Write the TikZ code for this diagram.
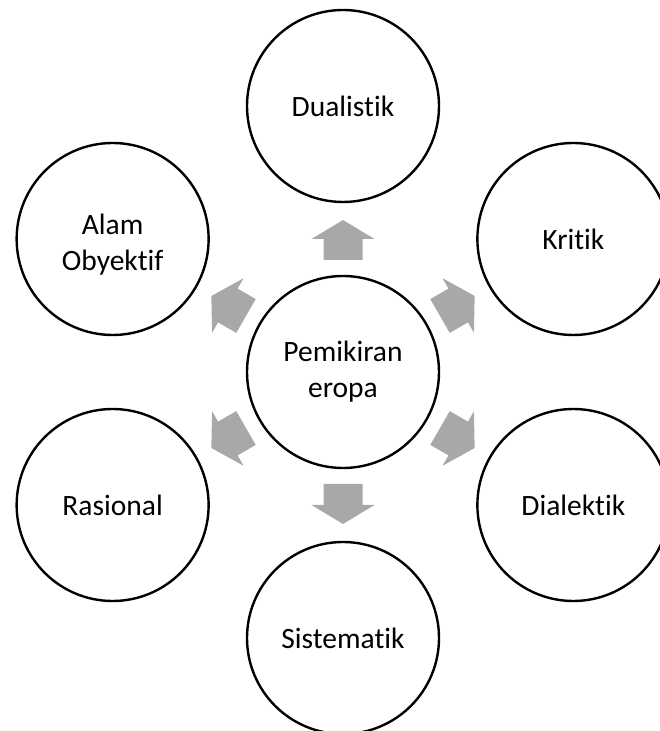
\documentclass[tikz,border=0pt]{standalone}
\usepackage{fontspec}
\setmainfont{Carlito}[Ligatures={NoCommon,NoContextual}]
\usetikzlibrary{calc}
\definecolor{arrowgray}{RGB}{168,168,168}
\begin{document}
\begin{tikzpicture}[x=1pt,y=1pt,
  bubble/.style={circle,draw=black,line width=2.4pt,minimum size=192pt,inner sep=0pt,
    align=center,font=\fontsize{29.5}{36}\selectfont},
  bubbletext/.style={align=center,font=\fontsize{29.5}{36}\selectfont},
  blockarrow/.style={fill=arrowgray}]
\useasboundingbox (0,0) rectangle (659,731);
\coordinate (c) at (343,359);
\node[bubble] (center) at (c) {Pemikiran\\eropa};
\node[bubble] (dual) at ($(c)+(90:266)$) {Dualistik};
\node[bubble] (krit) at ($(c)+(30:266)$) {Kritik};
\node[bubble] (dial) at ($(c)+(-30:266)$) {Dialektik};
\node[bubble] (sist) at ($(c)+(-90:266)$) {Sistematik};
\node[bubble] (rasi) at ($(c)+(210:266)$) {Rasional};
\node[bubble] (alam) at ($(c)+(150:266)$) {};
\node[bubbletext,yshift=-6pt] (alamtext) at (alam.center) {Alam\\Obyektif};
\foreach \a in {90,30,-30,-90,210,150}{
  \fill[blockarrow,rotate around={\a:(c)}]
    ($(c)+(112,-19.5)$) -- ($(c)+(133,-19.5)$) -- ($(c)+(133,-31.5)$) --
    ($(c)+(152,0)$) -- ($(c)+(133,31.5)$) -- ($(c)+(133,19.5)$) --
    ($(c)+(112,19.5)$) -- cycle;
}
\end{tikzpicture}
\end{document}
